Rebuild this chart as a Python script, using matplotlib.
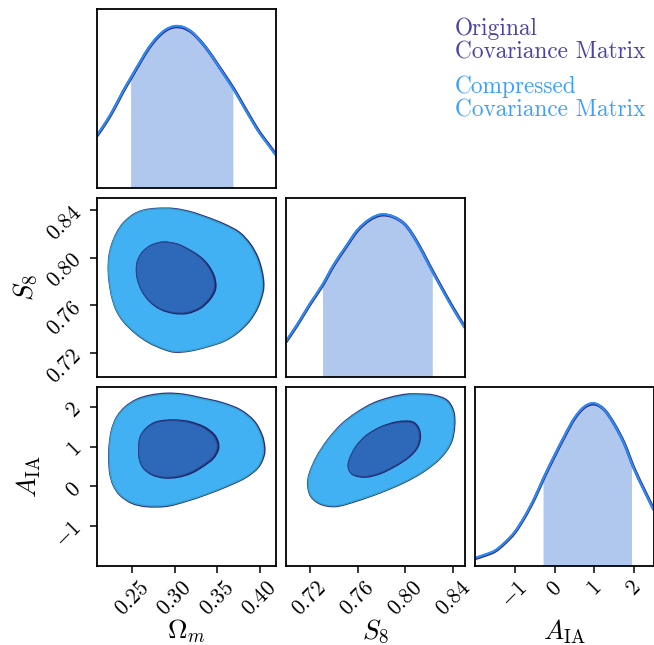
import matplotlib
matplotlib.use("Agg")
import matplotlib.pyplot as plt
import numpy as np
from matplotlib.path import Path
from matplotlib.patches import PathPatch

plt.rcParams['font.family'] = 'serif'
plt.rcParams['font.serif'] = ['cmr10']
plt.rcParams['mathtext.fontset'] = 'cm'

# axis ranges and ticks
om_lim = (0.209, 0.419)
s8_lim = (0.70, 0.85)
a_lim = (-2.0, 2.5)
om_ticks = [0.25, 0.30, 0.35, 0.40]
om_labels = ['$0.25$', '$0.30$', '$0.35$', '$0.40$']
s8_ticks = [0.72, 0.76, 0.80, 0.84]
s8_labels = ['$0.72$', '$0.76$', '$0.80$', '$0.84$']
a_ticks = [-1, 0, 1, 2]
a_labels = ['$-1$', '$0$', '$1$', '$2$']

# 1D marginals (peak normalised to 1)
om_grid = [0.209, 0.22, 0.23, 0.24, 0.25, 0.26, 0.27, 0.28, 0.29, 0.30, 0.31, 0.32,
           0.33, 0.34, 0.35, 0.36, 0.37, 0.38, 0.39, 0.40, 0.41, 0.419]
om_pdf_comp = [0.325, 0.41, 0.50, 0.60, 0.69, 0.78, 0.865, 0.93, 0.975, 0.995, 0.99, 0.96,
               0.905, 0.84, 0.76, 0.68, 0.60, 0.51, 0.42, 0.335, 0.265, 0.20]
om_pdf_orig = [0.32, 0.405, 0.495, 0.595, 0.685, 0.775, 0.86, 0.925, 0.97, 0.99, 0.985, 0.957,
               0.905, 0.84, 0.763, 0.685, 0.605, 0.515, 0.425, 0.34, 0.27, 0.205]
om_band = [0.249, 0.369]
om_band_h = [0.68, 0.608]

s8_grid = [0.70, 0.71, 0.72, 0.73, 0.74, 0.75, 0.76, 0.77, 0.78, 0.79, 0.80, 0.81,
           0.82, 0.83, 0.84, 0.85]
s8_pdf_comp = [0.22, 0.33, 0.45, 0.56, 0.69, 0.80, 0.905, 0.97, 1.0, 0.985, 0.935, 0.825,
               0.685, 0.55, 0.42, 0.30]
s8_pdf_orig = [0.215, 0.325, 0.445, 0.555, 0.685, 0.795, 0.90, 0.965, 0.995, 0.983, 0.935, 0.828,
               0.69, 0.555, 0.425, 0.305]
s8_band = [0.731, 0.823]
s8_band_h = [0.572, 0.645]

a_grid = [-2.0, -1.75, -1.5, -1.25, -1.0, -0.75, -0.5, -0.25, 0.0, 0.25, 0.5, 0.75,
          1.0, 1.25, 1.5, 1.75, 2.0, 2.25, 2.5]
a_pdf_comp = [0.05, 0.07, 0.095, 0.145, 0.21, 0.305, 0.42, 0.555, 0.68, 0.80, 0.91, 0.98,
              1.0, 0.96, 0.87, 0.75, 0.595, 0.465, 0.34]
a_pdf_orig = [0.045, 0.065, 0.09, 0.14, 0.205, 0.30, 0.415, 0.55, 0.675, 0.795, 0.905, 0.975,
              0.995, 0.96, 0.872, 0.755, 0.60, 0.47, 0.345]
a_band = [-0.277, 1.947]
a_band_h = [0.54, 0.625]

# 2D contours (68% inner, 95% outer)
om_s8_outer_x = [0.2792, 0.2636, 0.2519, 0.2402, 0.2324, 0.2265, 0.2234, 0.2226, 0.2238, 0.2265,
                 0.2316, 0.2402, 0.2539, 0.2695, 0.2870, 0.3007, 0.3183, 0.3378, 0.3573, 0.3729,
                 0.3866, 0.3963, 0.4022, 0.4030, 0.4010, 0.3963, 0.3877, 0.3749, 0.3573, 0.3378,
                 0.3183, 0.2988]
om_s8_outer_y = [0.8408, 0.8394, 0.8358, 0.8289, 0.8206, 0.8108, 0.8011, 0.7900, 0.7789, 0.7678,
                 0.7567, 0.7469, 0.7373, 0.7295, 0.7239, 0.7214, 0.7223, 0.7256, 0.7303, 0.7373,
                 0.7469, 0.7581, 0.7706, 0.7789, 0.7886, 0.7997, 0.8108, 0.8206, 0.8275, 0.8331,
                 0.8378, 0.8406]
om_s8_outer_x_orig = [0.2792, 0.2636, 0.2517, 0.2400, 0.2322, 0.2263, 0.2232, 0.2224, 0.2236, 0.2263,
                      0.2314, 0.2400, 0.2537, 0.2695, 0.2870, 0.3007, 0.3183, 0.3380, 0.3578, 0.3736,
                      0.3875, 0.3975, 0.4035, 0.4045, 0.4025, 0.3977, 0.3890, 0.3760, 0.3582, 0.3385,
                      0.3186, 0.2988]
om_s8_outer_y_orig = [0.8412, 0.8397, 0.8361, 0.8291, 0.8208, 0.8108, 0.8011, 0.7900, 0.7789, 0.7678,
                      0.7565, 0.7466, 0.7369, 0.7290, 0.7234, 0.7209, 0.7219, 0.7253, 0.7300, 0.7370,
                      0.7466, 0.7580, 0.7706, 0.7789, 0.7888, 0.8001, 0.8113, 0.8212, 0.8281, 0.8337,
                      0.8384, 0.8411]
om_s8_inner_x = [0.2870, 0.2734, 0.2628, 0.2566, 0.2550, 0.2566, 0.2617, 0.2706, 0.2831, 0.2988,
                 0.3144, 0.3292, 0.3397, 0.3456, 0.3468, 0.3448, 0.3386, 0.3292, 0.3163, 0.3027]
om_s8_inner_y = [0.8131, 0.8108, 0.8053, 0.7978, 0.7900, 0.7811, 0.7720, 0.7636, 0.7573, 0.7540,
                 0.7540, 0.7581, 0.7650, 0.7720, 0.7775, 0.7850, 0.7933, 0.8006, 0.8067, 0.8114]
om_s8_inner_x_orig = [0.2875, 0.2740, 0.2635, 0.2574, 0.2558, 0.2574, 0.2624, 0.2713, 0.2838, 0.2995,
                      0.3152, 0.3302, 0.3410, 0.3470, 0.3482, 0.3460, 0.3396, 0.3300, 0.3170, 0.3032]
om_s8_inner_y_orig = [0.8128, 0.8104, 0.8050, 0.7976, 0.7898, 0.7809, 0.7717, 0.7632, 0.7568, 0.7535,
                      0.7535, 0.7577, 0.7647, 0.7718, 0.7775, 0.7851, 0.7934, 0.8005, 0.8065, 0.8111]

om_a_outer_x = [0.2910, 0.2714, 0.2558, 0.2422, 0.2324, 0.2265, 0.2238, 0.2234, 0.2246, 0.2285,
                0.2363, 0.2500, 0.2675, 0.2910, 0.3144, 0.3378, 0.3612, 0.3827, 0.3971, 0.4034,
                0.4041, 0.4010, 0.3924, 0.3768, 0.3554, 0.3300, 0.3105]
om_a_outer_y = [2.3167, 2.2667, 2.1667, 1.9833, 1.7333, 1.4167, 1.0417, 0.6667, 0.3333, 0.0417,
                -0.2083, -0.40, -0.4833, -0.475, -0.35, -0.1833, 0.0167, 0.2333, 0.4833, 0.7667,
                1.0, 1.2917, 1.625, 1.90, 2.0833, 2.2083, 2.2917]
om_a_outer_x_orig = [0.2910, 0.2712, 0.2555, 0.2419, 0.2321, 0.2262, 0.2235, 0.2230, 0.2242, 0.2281,
                     0.2360, 0.2498, 0.2675, 0.2910, 0.3146, 0.3382, 0.3618, 0.3835, 0.3982, 0.4048,
                     0.4056, 0.4024, 0.3935, 0.3775, 0.3558, 0.3302, 0.3106]
om_a_outer_y_orig = [2.3400, 2.2900, 2.1850, 1.9950, 1.7400, 1.4167, 1.0417, 0.6667, 0.3300, 0.0350,
                     -0.2200, -0.4200, -0.5050, -0.4950, -0.3650, -0.1950, 0.0050, 0.2250, 0.4800, 0.7667,
                     1.0, 1.3000, 1.6400, 1.9200, 2.1050, 2.2300, 2.3150]
om_a_inner_x = [0.2910, 0.2773, 0.2667, 0.2597, 0.2578, 0.2589, 0.2636, 0.2734, 0.2870, 0.3027,
                0.3183, 0.3319, 0.3436, 0.3495, 0.3495, 0.3448, 0.3339, 0.3183, 0.3046]
om_a_inner_y = [1.65, 1.60, 1.4583, 1.25, 0.9583, 0.6667, 0.4583, 0.3083, 0.2333, 0.25,
                0.35, 0.5167, 0.7083, 0.9167, 1.10, 1.2917, 1.475, 1.60, 1.65]
om_a_inner_x_orig = [0.2912, 0.2776, 0.2671, 0.2602, 0.2584, 0.2595, 0.2642, 0.2740, 0.2876, 0.3034,
                     0.3193, 0.3331, 0.3450, 0.3510, 0.3510, 0.3462, 0.3350, 0.3190, 0.3050]
om_a_inner_y_orig = [1.66, 1.61, 1.4650, 1.25, 0.9583, 0.6600, 0.4500, 0.2950, 0.2200, 0.2350,
                     0.3350, 0.5050, 0.7000, 0.9167, 1.11, 1.3050, 1.49, 1.615, 1.66]

s8_a_outer_x = [0.8007, 0.7868, 0.7729, 0.7590, 0.7464, 0.7353, 0.7261, 0.7200, 0.7186, 0.7214,
                0.7297, 0.7423, 0.7590, 0.7784, 0.7979, 0.8146, 0.8286, 0.8375, 0.8405, 0.8397,
                0.8341, 0.8230, 0.8118]
s8_a_outer_y = [2.2917, 2.2083, 2.0667, 1.8333, 1.5417, 1.1667, 0.75, 0.3333, 0.0417, -0.25,
                -0.4333, -0.4833, -0.35, -0.15, 0.10, 0.375, 0.7083, 1.0833, 1.50, 1.875,
                2.15, 2.275, 2.30]
s8_a_outer_x_orig = [0.8007, 0.7866, 0.7726, 0.7587, 0.7461, 0.7350, 0.7258, 0.7197, 0.7183, 0.7211,
                     0.7295, 0.7423, 0.7592, 0.7787, 0.7983, 0.8151, 0.8292, 0.8382, 0.8412, 0.8404,
                     0.8347, 0.8234, 0.8120]
s8_a_outer_y_orig = [2.3150, 2.2300, 2.0850, 1.8450, 1.5500, 1.1700, 0.75, 0.3300, 0.0350, -0.2600,
                     -0.4500, -0.5000, -0.3650, -0.1600, 0.0900, 0.3700, 0.7083, 1.0900, 1.5100, 1.8900,
                     2.1700, 2.2950, 2.3200]
s8_a_inner_x = [0.7520, 0.7534, 0.7584, 0.7668, 0.7784, 0.7924, 0.8049, 0.8105, 0.8118, 0.8091,
                0.8021, 0.7910, 0.7784, 0.7659, 0.7556]
s8_a_inner_y = [0.4833, 0.7083, 1.0, 1.2667, 1.475, 1.60, 1.6083, 1.4583, 1.2083, 0.9583,
                0.7333, 0.5167, 0.3333, 0.25, 0.3083]
s8_a_inner_x_orig = [0.7526, 0.7539, 0.7589, 0.7672, 0.7787, 0.7926, 0.8052, 0.8110, 0.8124, 0.8097,
                     0.8026, 0.7914, 0.7788, 0.7664, 0.7562]
s8_a_inner_y_orig = [0.4900, 0.7100, 1.0, 1.2700, 1.4800, 1.6150, 1.6250, 1.4700, 1.2150, 0.9600,
                     0.7300, 0.5100, 0.3250, 0.2400, 0.3000]

# colours
orig_text = '#4a42a6'
comp_text = '#3da0ff'
orig_line = '#2f2a86'
comp_line = '#2a8cf2'
shade = '#b0c8ee'
orig_outer = '#7666d2'
comp_outer = '#42b1f3'
inner_fill = '#2d69b8'
orig_edge = '#2e2a8a'
comp_edge = '#33a3c4'
inner_edge = '#1c2266'


def smooth_path(xs, ys, closed):
    # smooth curve through the read points (Catmull-Rom as cubic Bezier)
    pts = np.column_stack([xs, ys]).astype(float)
    n = len(pts)
    verts = [pts[0]]
    codes = [Path.MOVETO]
    nseg = n if closed else n - 1
    for i in range(nseg):
        p1 = pts[i]
        p2 = pts[(i + 1) % n]
        p0 = pts[(i - 1) % n] if (closed or i > 0) else p1
        p3 = pts[(i + 2) % n] if (closed or i + 2 < n) else p2
        verts += [p1 + (p2 - p0) / 6, p2 - (p3 - p1) / 6, p2]
        codes += [Path.CURVE4] * 3
    if closed:
        verts.append(pts[0])
        codes.append(Path.CLOSEPOLY)
    return Path(verts, codes)


def style(ax, xlim, ylim):
    ax.set_xlim(xlim)
    ax.set_ylim(ylim)
    for s in ax.spines.values():
        s.set_linewidth(1.3)
    ax.tick_params(direction='out', length=5, width=1.1, labelsize=15.5)
    ax.set_xticks([])
    ax.set_yticks([])


def draw_1d(ax, grid, pdf_o, pdf_c, band, band_h):
    inside = [(g, p) for g, p in zip(grid, pdf_c) if band[0] < g < band[1]]
    sx = [band[0], band[0]] + [q[0] for q in inside] + [band[1], band[1]]
    sy = [0, band_h[0]] + [q[1] for q in inside] + [band_h[1], 0]
    ax.fill(sx, sy, color=shade, lw=0)
    ax.add_patch(PathPatch(smooth_path(grid, pdf_o, False), fill=False, ec=orig_line, lw=2.2))
    ax.add_patch(PathPatch(smooth_path(grid, pdf_c, False), fill=False, ec=comp_line, lw=1.6))


def draw_2d(ax, out_o, out_c, in_o, in_c):
    ax.add_patch(PathPatch(smooth_path(*out_o, True), fc=orig_outer, ec=orig_edge, lw=1.2))
    ax.add_patch(PathPatch(smooth_path(*out_c, True), fc=comp_outer, ec=comp_edge, lw=1.0))
    ax.add_patch(PathPatch(smooth_path(*in_o, True), fc=inner_fill, ec=inner_edge, lw=1.3))
    ax.add_patch(PathPatch(smooth_path(*in_c, True), fc=inner_fill, ec='#27468f', lw=0.8))


fig = plt.figure(figsize=(6.54, 6.45), dpi=100)
W, H = 654.0, 645.0
size = 179
col_left = [97, 286, 475]
row_top = [9, 198, 387]


def panel(r, c):
    return fig.add_axes([col_left[c] / W, 1 - (row_top[r] + size) / H, size / W, size / H])


ax_om = panel(0, 0)
style(ax_om, om_lim, (0, 1.1))
draw_1d(ax_om, om_grid, om_pdf_orig, om_pdf_comp, om_band, om_band_h)

ax_oms8 = panel(1, 0)
style(ax_oms8, om_lim, s8_lim)
draw_2d(ax_oms8, (om_s8_outer_x_orig, om_s8_outer_y_orig), (om_s8_outer_x, om_s8_outer_y),
        (om_s8_inner_x_orig, om_s8_inner_y_orig), (om_s8_inner_x, om_s8_inner_y))

ax_s8 = panel(1, 1)
style(ax_s8, s8_lim, (0, 1.1))
draw_1d(ax_s8, s8_grid, s8_pdf_orig, s8_pdf_comp, s8_band, s8_band_h)

ax_oma = panel(2, 0)
style(ax_oma, om_lim, a_lim)
draw_2d(ax_oma, (om_a_outer_x_orig, om_a_outer_y_orig), (om_a_outer_x, om_a_outer_y),
        (om_a_inner_x_orig, om_a_inner_y_orig), (om_a_inner_x, om_a_inner_y))

ax_s8a = panel(2, 1)
style(ax_s8a, s8_lim, a_lim)
draw_2d(ax_s8a, (s8_a_outer_x_orig, s8_a_outer_y_orig), (s8_a_outer_x, s8_a_outer_y),
        (s8_a_inner_x_orig, s8_a_inner_y_orig), (s8_a_inner_x, s8_a_inner_y))

ax_a = panel(2, 2)
style(ax_a, a_lim, (0, 1.1))
draw_1d(ax_a, a_grid, a_pdf_orig, a_pdf_comp, a_band, a_band_h)

# ticks on the outer edges
ax_oms8.set_yticks(s8_ticks, s8_labels, rotation=45)
ax_oma.set_yticks(a_ticks, a_labels, rotation=45)
ax_oma.set_xticks(om_ticks, om_labels, rotation=45)
ax_s8a.set_xticks(s8_ticks, s8_labels, rotation=45)
ax_a.set_xticks(a_ticks, a_labels, rotation=45)

# axis labels
ax_oms8.set_ylabel(r'$S_8$', fontsize=19.5)
ax_oma.set_ylabel(r'$A_{\mathrm{IA}}$', fontsize=19.5)
ax_oms8.yaxis.set_label_coords(-0.40, 0.5)
ax_oma.yaxis.set_label_coords(-0.38, 0.5)
ax_oma.set_xlabel(r'$\Omega_m$', fontsize=19.5)
ax_s8a.set_xlabel(r'$S_8$', fontsize=19.5)
ax_a.set_xlabel(r'$A_{\mathrm{IA}}$', fontsize=19.5)
for ax in (ax_oma, ax_s8a, ax_a):
    ax.xaxis.set_label_coords(0.5, -0.365)
    ax.xaxis.label.set_va('center')
for ax in (ax_oms8, ax_oma):
    ax.yaxis.label.set_va('center')

# legend as coloured text
fig.text(455 / W, 1 - 18 / H, 'Original\nCovariance Matrix', color=orig_text,
         fontsize=16.8, ha='left', va='top', linespacing=1.05)
fig.text(455 / W, 1 - 76 / H, 'Compressed\nCovariance Matrix', color=comp_text,
         fontsize=16.8, ha='left', va='top', linespacing=1.05)

fig.savefig('out.png', dpi=100)
